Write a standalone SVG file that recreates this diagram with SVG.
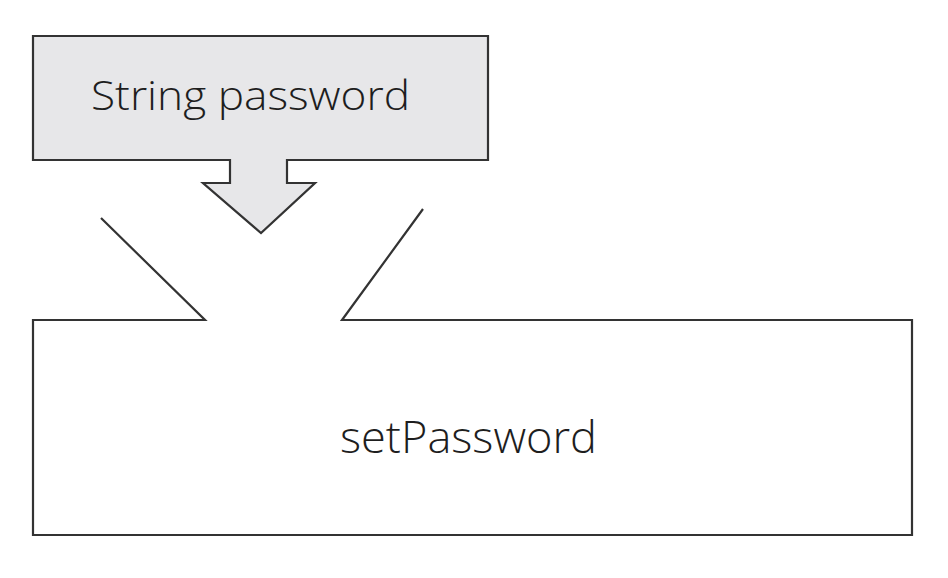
<svg xmlns="http://www.w3.org/2000/svg" width="948" height="578" viewBox="0 0 948 578">
  <style>
    .shape { stroke: #333; stroke-width: 2.2; stroke-linejoin: miter; }
    .lbl { font-family: "Open Sans", "Liberation Sans", Arial, sans-serif; font-weight: 300; fill: #1e1e1e; }
  </style>
  <rect width="948" height="578" fill="#ffffff"/>
  <g id="param">
    <path class="shape" fill="#e7e7e9" d="M33,36 H488 V160 H287 V183 H315 L261,233 L203,183 H230 V160 H33 Z"/>
    <text class="lbl" x="91" y="110" font-size="41" textLength="319" lengthAdjust="spacingAndGlyphs">String password</text>
  </g>
  <g id="setPassword">
    <path class="shape" fill="none" d="M101,218 L205,320 H33 V535 H912 V320 H342 L423,209"/>
    <text class="lbl" x="340" y="453" font-size="44" textLength="257" lengthAdjust="spacingAndGlyphs">setPassword</text>
  </g>
  <g id="connectors"></g>
</svg>
